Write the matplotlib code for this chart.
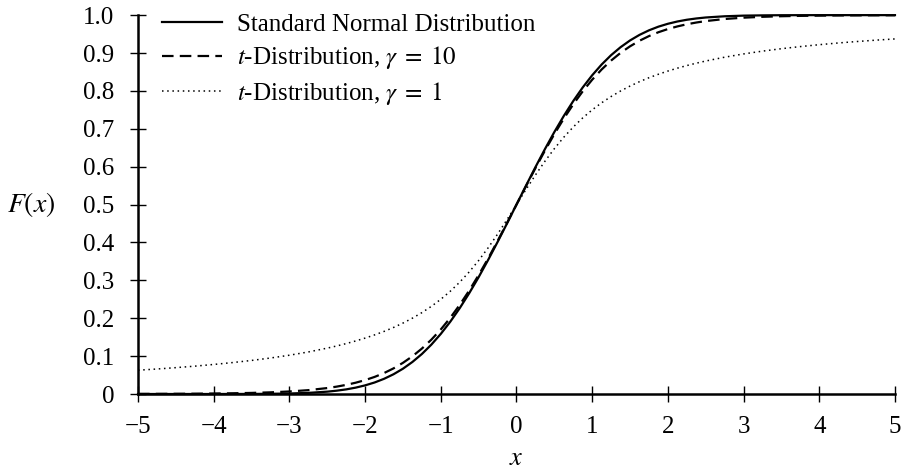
import matplotlib
matplotlib.use("Agg")
import matplotlib.pyplot as plt

# x grid (finer in the steep middle part)
x_vals = [-5.0, -4.75, -4.5, -4.25, -4.0, -3.75, -3.5, -3.25, -3.0, -2.75,
          -2.5, -2.375, -2.25, -2.125, -2.0, -1.875, -1.75, -1.625, -1.5, -1.375,
          -1.25, -1.125, -1.0, -0.875, -0.75, -0.625, -0.5, -0.375, -0.25, -0.125,
          0.0, 0.125, 0.25, 0.375, 0.5, 0.625, 0.75, 0.875, 1.0, 1.125,
          1.25, 1.375, 1.5, 1.625, 1.75, 1.875, 2.0, 2.125, 2.25, 2.375,
          2.5, 2.75, 3.0, 3.25, 3.5, 3.75, 4.0, 4.25, 4.5, 4.75, 5.0]

normal_cdf = [0.0, 0.0, 0.0, 0.0, 0.0, 0.0001, 0.0002, 0.0006, 0.0013, 0.0030,
              0.0062, 0.0088, 0.0122, 0.0168, 0.0228, 0.0304, 0.0401, 0.0521, 0.0668, 0.0846,
              0.1056, 0.1303, 0.1587, 0.1908, 0.2266, 0.2660, 0.3085, 0.3538, 0.4013, 0.4503,
              0.5, 0.5497, 0.5987, 0.6462, 0.6915, 0.7340, 0.7734, 0.8092, 0.8413, 0.8697,
              0.8944, 0.9154, 0.9332, 0.9479, 0.9599, 0.9696, 0.9772, 0.9832, 0.9878, 0.9912,
              0.9938, 0.9970, 0.9987, 0.9994, 0.9998, 0.9999, 1.0, 1.0, 1.0, 1.0, 1.0]

t10_cdf = [0.0003, 0.0004, 0.0006, 0.0008, 0.0013, 0.0019, 0.0029, 0.0044, 0.0067, 0.0102,
           0.0157, 0.0195, 0.0241, 0.0298, 0.0367, 0.0451, 0.0553, 0.0676, 0.0823, 0.0996,
           0.1199, 0.1434, 0.1704, 0.2010, 0.2353, 0.2730, 0.3140, 0.3577, 0.4038, 0.4515,
           0.5, 0.5485, 0.5962, 0.6423, 0.6860, 0.7270, 0.7647, 0.7990, 0.8296, 0.8566,
           0.8801, 0.9004, 0.9177, 0.9324, 0.9447, 0.9549, 0.9633, 0.9702, 0.9759, 0.9805,
           0.9843, 0.9898, 0.9933, 0.9956, 0.9971, 0.9981, 0.9987, 0.9992, 0.9994, 0.9996, 0.9997]

t1_cdf = [0.0628, 0.0660, 0.0696, 0.0735, 0.0780, 0.0830, 0.0886, 0.0950, 0.1024, 0.1110,
          0.1211, 0.1268, 0.1331, 0.1400, 0.1476, 0.1560, 0.1652, 0.1756, 0.1872, 0.2002,
          0.2148, 0.2313, 0.25, 0.2712, 0.2952, 0.3222, 0.3524, 0.3858, 0.4220, 0.4604,
          0.5, 0.5396, 0.5780, 0.6142, 0.6476, 0.6778, 0.7048, 0.7288, 0.75, 0.7687,
          0.7852, 0.7998, 0.8128, 0.8244, 0.8348, 0.8440, 0.8524, 0.8600, 0.8669, 0.8732,
          0.8789, 0.8890, 0.8976, 0.9050, 0.9114, 0.9170, 0.9220, 0.9265, 0.9304, 0.9340, 0.9372]

labels = ["Standard Normal Distribution",
          r"$t$-Distribution, $\gamma\;=\;10$",
          r"$t$-Distribution, $\gamma\;=\;1$"]

x_ticks = [-5, -4, -3, -2, -1, 0, 1, 2, 3, 4, 5]
y_ticks = [0, 0.1, 0.2, 0.3, 0.4, 0.5, 0.6, 0.7, 0.8, 0.9, 1.0]
y_ticklabels = ["0", "0.1", "0.2", "0.3", "0.4", "0.5", "0.6", "0.7", "0.8", "0.9", "1.0"]

plt.rcParams["font.family"] = ["Liberation Serif", "DejaVu Serif"]
plt.rcParams["mathtext.fontset"] = "stix"
plt.rcParams["font.size"] = 18

fig = plt.figure(figsize=(9.01, 4.73), dpi=100)
ax = fig.add_axes([0.1532, 0.167, 0.8401, 0.801])

ax.plot(x_vals, normal_cdf, color="black", lw=1.6, label=labels[0], clip_on=False)
ax.plot(x_vals, t10_cdf, color="black", lw=1.6, linestyle=(0, (5.2, 2.8)), label=labels[1])
ax.plot(x_vals, t1_cdf, color="black", lw=1.1, linestyle=(0, (1, 2.4)), label=labels[2])

ax.set_xlim(-5, 5)
ax.set_ylim(0, 1)
ax.set_xticks(x_ticks)
ax.set_yticks(y_ticks)
ax.set_yticklabels(y_ticklabels)

for side in ["top", "right"]:
    ax.spines[side].set_visible(False)
for side in ["left", "bottom"]:
    ax.spines[side].set_linewidth(1.8)
ax.tick_params(direction="inout", length=11, width=1)
ax.tick_params(axis="y", pad=11.5)
ax.tick_params(axis="x", pad=10)

ax.set_xlabel(r"$x$", va="center", fontsize=19)
ax.xaxis.set_label_coords(0.5, -0.172)
ax.set_ylabel(r"$F(x)$", rotation=0, ha="center", va="center", fontsize=20)
ax.yaxis.set_label_coords(-0.141, 0.5)

ax.legend(loc="upper left", frameon=False, handlelength=2.4, handletextpad=0.6,
          labelspacing=0.35, borderaxespad=0.0, bbox_to_anchor=(0.0185, 1.032))

fig.savefig("out.png", dpi=100)
